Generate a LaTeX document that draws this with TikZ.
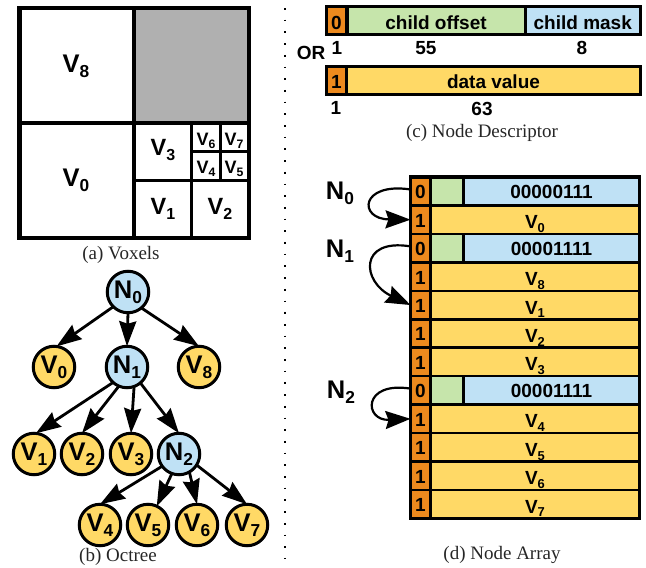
\documentclass[tikz,border=0pt]{standalone}
\usepackage{fontspec}
\usepackage{graphicx}
\setmainfont{Liberation Serif}
\setsansfont{Liberation Sans}
\usetikzlibrary{arrows.meta}
\definecolor{cOrange}{HTML}{ED8A1E}
\definecolor{cGreen}{HTML}{C6E5AB}
\definecolor{cBlue}{HTML}{BFE1F5}
\definecolor{cYellow}{HTML}{FFD966}
\definecolor{cGray}{HTML}{B0B0B0}
\newcommand{\sub}[1]{\raisebox{-.2em}{\scalebox{.68}{#1}}}
\newcommand{\fs}[1]{\fontsize{#1}{#1}\selectfont}
\tikzset{
  x=1pt,y=-1pt,
  bf/.style={font=\fs{#1}\sffamily\bfseries,inner sep=0pt,outer sep=0pt,text=black},
  capt/.style={font=\fs{19}\rmfamily,inner sep=0pt,text=black!85},
  treenode/.style={circle,draw=black,line width=3pt,minimum size=41.5pt,inner sep=0pt,outer sep=0pt,font=\fs{25.5}\sffamily\bfseries},
  inner/.style={treenode,fill=cBlue},
  leaf/.style={treenode,fill=cYellow},
  arr/.style={line width=2.8pt,-{Stealth[length=25pt,width=17pt,inset=2.5pt]}},
  curv/.style={line width=2.2pt,-{Stealth[length=25pt,width=18pt,inset=3pt]}},
  vox/.style={draw=black,line width=#1},
  cell/.style={draw=black,line width=2.6pt,inner sep=0pt,outer sep=0pt,minimum height=28.45pt,text height=15pt,text depth=0pt,font=\fs{19}\sffamily\bfseries},
  fld/.style={draw=black,line width=3pt,inner sep=0pt,outer sep=0pt,minimum height=27.5pt,text height=17pt,text depth=0pt,font=\fs{19}\sffamily\bfseries},
}
\begin{document}
\begin{tikzpicture}
\useasboundingbox (0,0) rectangle (646,568);
% voxels
\fill[cGray] (134,8) rectangle (249,123);
\draw[vox=3pt] (134,123) -- (134,238) (134,180.3) -- (249,180.3) (191.5,123) -- (191.5,238) (191.5,151.7) -- (249,151.7) (220,123) -- (220,180.3);
\draw[vox=4.5pt] (134,8) -- (134,123) (19.5,123) -- (249,123) (19.5,8) rectangle (249,238);
\draw[vox=4pt] (134,123) -- (134,238);
\foreach \n/\t/\s/\px/\py in {a8/8/25.5/76/66,a0/0/25.5/76/180,a3/3/23.5/163/150,a1/1/23.5/163/209,a2/2/23.5/220/209,a6/6/18/206/141,a7/7/18/234/141,a4/4/18/206/169,a5/5/18/234/169}
  \node[bf=\s] (\n) at (\px,\py) {V\sub{\t}};
\node[capt] (capa) at (121,255) {(a) Voxels};
% divider
\coordinate (dtop) at (285,8);
\coordinate (dbot) at (285,558);
\draw[line width=1.7pt,dash pattern=on 1.7pt off 10pt] (dtop) -- (dbot);
% octree
\node[inner] (N0) at (128,292) {N\sub{0}};
\node[leaf] (V0) at (54,367) {V\sub{0}};
\node[inner] (N1) at (127,367) {N\sub{1}};
\node[leaf] (V8) at (199,367) {V\sub{8}};
\node[leaf] (V1) at (34,454) {V\sub{1}};
\node[leaf] (V2) at (82,454) {V\sub{2}};
\node[leaf] (V3) at (131,454) {V\sub{3}};
\node[inner] (N2) at (179,454) {N\sub{2}};
\node[leaf] (V4) at (100,525) {V\sub{4}};
\node[leaf] (V5) at (148,525) {V\sub{5}};
\node[leaf] (V6) at (197,525) {V\sub{6}};
\node[leaf] (V7) at (247,525) {V\sub{7}};
\draw[arr] (N0.225) -- (V0.83);
\draw[arr] (N0.270) -- (N1.90);
\draw[arr] (N0.-50) -- (V8.90);
\draw[arr] (N1.228) -- (V1.85);
\draw[arr] (N1.247) -- (V2.90);
\draw[arr] (N1.-70) -- (V3.90);
\draw[arr] (N1.-50) -- (N2.90);
\draw[arr] (N2.216) -- (V4.90);
\draw[arr] (N2.250) -- (V5.65);
\draw[arr] (N2.-60) -- (V6.90);
\draw[arr] (N2.-32) -- (V7.90);
\node[capt] (capb) at (118,557) {(b) Octree};
% descriptor
\node[fld,fill=cOrange,minimum width=20.5pt] (d0) at (336.5,20.5) {0};
\node[fld,fill=cGreen,minimum width=178pt] (d1) at (436,20.5) {child offset};
\node[fld,fill=cBlue,minimum width=115.5pt] (d2) at (582.75,20.5) {child mask};
\node[fld,fill=cOrange,minimum width=20.5pt,text height=16pt] (e0) at (336.5,80.5) {1};
\node[fld,fill=cYellow,minimum width=293.5pt,text height=16pt] (e1) at (493.5,80.5) {data value};
\foreach \n/\t/\px/\py in {l0/1/337/48,l1/55/426/48,l2/8/582/48,l3/OR/311/53,l4/1/336/108,l5/63/482/109}
  \node[bf=19] (\n) at (\px,\py) {\t};
\node[capt] (capc) at (482,133) {(c) Node Descriptor};
% node array
\foreach \i/\f in {0/0,1/1,2/0,3/1,4/1,5/1,6/1,7/0,8/1,9/1,10/1,11/1}
  \node[cell,fill=cOrange,minimum width=20pt] (f\i) at (420.5,{177+28.45*(\i+.5)}) {\f};
\foreach \i/\t in {1/0,3/8,4/1,5/2,6/3,8/4,9/5,10/6,11/7}
  \node[cell,fill=cYellow,minimum width=209pt,text height=18pt] (m\i) at (535,{177+28.45*(\i+.5)}) {V\sub{\t}};
\foreach \i/\t in {0/00000111,2/00001111,7/00001111}{
  \node[cell,fill=cGreen,minimum width=33pt] (g\i) at (447,{177+28.45*(\i+.5)}) {};
  \node[cell,fill=cBlue,minimum width=176pt,text height=14.5pt] (b\i) at (551.5,{177+28.45*(\i+.5)}) {\t};
}
\draw[black,line width=3.5pt] (f0.north west) rectangle (m11.south east);
\node[bf=25.5] (L0) at (340,193) {N\sub{0}};
\node[bf=25.5] (L1) at (340,251) {N\sub{1}};
\node[bf=25.5] (L2) at (341,392) {N\sub{2}};
\draw[curv] (f0.170) .. controls (360,182) and (358,219) .. (f1.west);
\draw[curv] (f2.170) .. controls (358,238) and (362,282) .. (f4.west);
\draw[curv] (f7.170) .. controls (362,381) and (364,421) .. (f8.west);
\node[capt] (capd) at (502,555) {(d) Node Array};
\end{tikzpicture}
\end{document}
